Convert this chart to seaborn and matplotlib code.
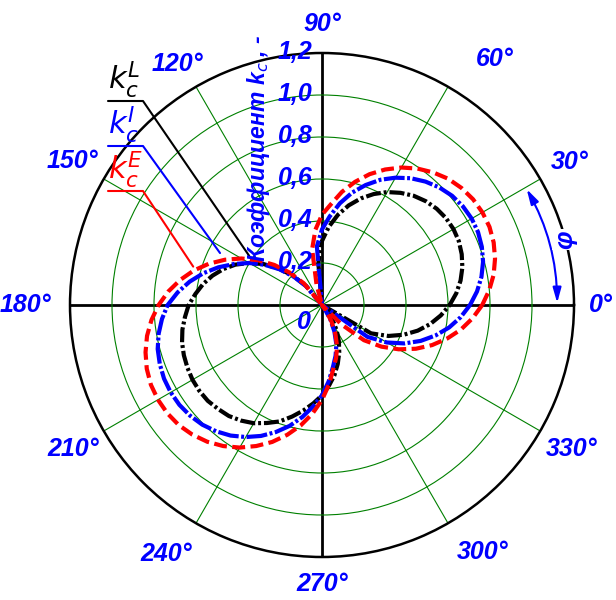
import numpy as np
import pandas as pd
import matplotlib
matplotlib.use("Agg")
import matplotlib.pyplot as plt
from matplotlib.lines import Line2D
import seaborn as sns

# polar angle, degrees (0..355, curve closed at 360)
angle_deg = list(range(0, 360, 5))

# coefficient k_c^L (black)
k_L = [0.608, 0.642, 0.670, 0.692, 0.708, 0.719, 0.723, 0.721, 0.713, 0.699,
       0.679, 0.652, 0.621, 0.583, 0.540, 0.491, 0.436, 0.374, 0.305, 0.20,
       0.0, 0.0, 0.0, 0.0, 0.0, 0.0, 0.12, 0.20, 0.27, 0.34,
       0.40, 0.455, 0.50, 0.54, 0.575, 0.605, 0.635, 0.655, 0.675, 0.69,
       0.70, 0.707, 0.712, 0.713, 0.71, 0.70, 0.69, 0.672, 0.65, 0.62,
       0.59, 0.55, 0.51, 0.47, 0.43, 0.385, 0.34, 0.29, 0.24, 0.19,
       0.14, 0.09, 0.04, 0.0, 0.0, 0.0, 0.27, 0.349, 0.414, 0.472,
       0.523, 0.568]

# coefficient k_c^I (blue)
k_I = [0.705, 0.741, 0.771, 0.794, 0.810, 0.820, 0.823, 0.819, 0.809, 0.791,
       0.767, 0.737, 0.700, 0.658, 0.608, 0.554, 0.492, 0.424, 0.36, 0.28,
       0.0, 0.0, 0.0, 0.0, 0.0, 0.0, 0.115, 0.192, 0.265, 0.334,
       0.400, 0.462, 0.525, 0.585, 0.64, 0.69, 0.735, 0.765, 0.79, 0.81,
       0.822, 0.83, 0.832, 0.829, 0.820, 0.806, 0.785, 0.759, 0.726, 0.688,
       0.644, 0.596, 0.542, 0.485, 0.43, 0.365, 0.30, 0.25, 0.20, 0.14,
       0.08, 0.02, 0.0, 0.0, 0.0, 0.265, 0.357, 0.433, 0.500, 0.560,
       0.615, 0.663]

# coefficient k_c^E (red)
k_E = [0.763, 0.799, 0.830, 0.853, 0.870, 0.880, 0.882, 0.878, 0.867, 0.850,
       0.824, 0.793, 0.756, 0.712, 0.663, 0.607, 0.547, 0.481, 0.43, 0.36,
       0.27, 0.10, 0.0, 0.0, 0.0, 0.0, 0.135, 0.219, 0.297, 0.372,
       0.443, 0.510, 0.574, 0.633, 0.686, 0.735, 0.778, 0.815, 0.846, 0.870,
       0.888, 0.899, 0.902, 0.899, 0.890, 0.873, 0.850, 0.820, 0.784, 0.741,
       0.694, 0.640, 0.582, 0.519, 0.452, 0.38, 0.31, 0.26, 0.21, 0.15,
       0.09, 0.03, 0.0, 0.13, 0.261, 0.346, 0.422, 0.493, 0.558, 0.617,
       0.672, 0.720]

r_ticks = [0.2, 0.4, 0.6, 0.8, 1.0, 1.2]
r_labels = ['0,2', '0,4', '0,6', '0,8', '1,0', '1,2']
theta_ticks = list(range(0, 360, 30))
theta_labels = [f'{a}°' for a in theta_ticks]

sns.set_style("white")
plt.rcParams['font.family'] = ['Liberation Sans', 'DejaVu Sans']
plt.rcParams['font.style'] = 'italic'
plt.rcParams['font.weight'] = 'bold'
plt.rcParams['mathtext.fontset'] = 'custom'
plt.rcParams['mathtext.it'] = 'DejaVu Sans:style=italic:weight=normal'
plt.rcParams['mathtext.rm'] = 'DejaVu Sans:weight=normal'
plt.rcParams['mathtext.bf'] = 'DejaVu Sans:weight=bold'

W, H = 616, 600
fig = plt.figure(figsize=(W / 100, H / 100), dpi=100)
ax = fig.add_axes([70 / W, 43 / H, 504 / W, 504 / H], projection='polar')

theta = np.deg2rad(angle_deg + [360])
df = pd.DataFrame({
    'theta': theta,
    'kL': k_L + k_L[:1],
    'kI': k_I + k_I[:1],
    'kE': k_E + k_E[:1],
})

styles = [
    ('kL', 'black', (0, (3.6, 0.7, 0.7, 0.7))),
    ('kI', 'blue', (0, (5.0, 0.6, 0.7, 0.6))),
    ('kE', 'red', (0, (3.1, 1.3))),
]
for col, color, ls in styles:
    sns.lineplot(data=df, x='theta', y=col, ax=ax, color=color, lw=3,
                 linestyle=ls, sort=False, estimator=None, zorder=3)

ax.set_xlabel('')
ax.set_ylabel('')
ax.set_ylim(0, 1.2)
ax.set_yticks(r_ticks[:-1])
ax.set_yticklabels([])
ax.set_xticks(np.deg2rad(theta_ticks))
ax.set_xticklabels([])
ax.grid(True, color='green', lw=0.8)
for i, gl in enumerate(ax.xaxis.get_gridlines()):
    if i % 3 == 0:
        gl.set_color('black')
        gl.set_linewidth(2.0)
ax.spines['polar'].set_linewidth(1.8)
ax.spines['polar'].set_color('black')

# angle labels around the circle (radius of label centre, axes units)
label_r = {0: 1.33, 30: 1.36, 60: 1.43, 90: 1.34, 120: 1.34, 150: 1.37,
           180: 1.41, 210: 1.37, 240: 1.40, 270: 1.33, 300: 1.40, 330: 1.37}
label_shift = {60: -5, 120: 1, 240: -2, 300: 3}
for a, lab in zip(theta_ticks, theta_labels):
    t = np.deg2rad(a + label_shift.get(a, 0))
    ax.text(t, label_r[a], lab, ha='center', va='center', color='blue', fontsize=18)

# radial scale labels along the 90 deg axis
for v, lab in zip(r_ticks, r_labels):
    ax.annotate(lab, xy=(np.pi / 2, v), xytext=(-7, 1), textcoords='offset points',
                ha='right', va='center', color='blue', fontsize=18)
ax.annotate('0', xy=(0, 0), xytext=(-8, -12), textcoords='offset points',
            ha='right', va='center', color='blue', fontsize=18)

fig.text(258 / W, 1 - 148 / H, 'Коэффициент k$_c$ , -', rotation=90,
         ha='center', va='center', color='blue', fontsize=16.5)

# phi arrow
ax.annotate('', xy=(np.deg2rad(0.5), 1.12), xytext=(np.deg2rad(29.5), 1.12),
            arrowprops=dict(arrowstyle='<|-|>,head_length=0.9,head_width=0.25',
                            color='blue', lw=1.5, shrinkA=0, shrinkB=0,
                            connectionstyle='arc3,rad=-0.13'))
ax.text(np.deg2rad(15), 1.2, 'φ', rotation=90, ha='center', va='center',
        color='blue', fontsize=19,
        bbox=dict(facecolor='white', edgecolor='none', pad=1))

# curve labels with leader lines
to_fig = fig.transFigure.inverted()
leaders = [
    (r'$k_c^L$', 'black', 101, 146, 0.418),
    (r'$k_c^I$', 'blue', 146, 153, 0.545),
    (r'$k_c^E$', 'red', 191, 163.4, 0.64),
]
for txt, color, y_px, th_end, r_end in leaders:
    fig.text(108 / W, 1 - (y_px - 1) / H, txt, color=color, fontsize=22,
             fontweight='normal', ha='left', va='bottom')
    xe, ye = to_fig.transform(ax.transData.transform((np.deg2rad(th_end), r_end)))
    fig.add_artist(Line2D([108 / W, 143 / W, xe], [1 - y_px / H, 1 - y_px / H, ye],
                          color=color, lw=1.5, transform=fig.transFigure))

fig.savefig('out.png', dpi=100)
